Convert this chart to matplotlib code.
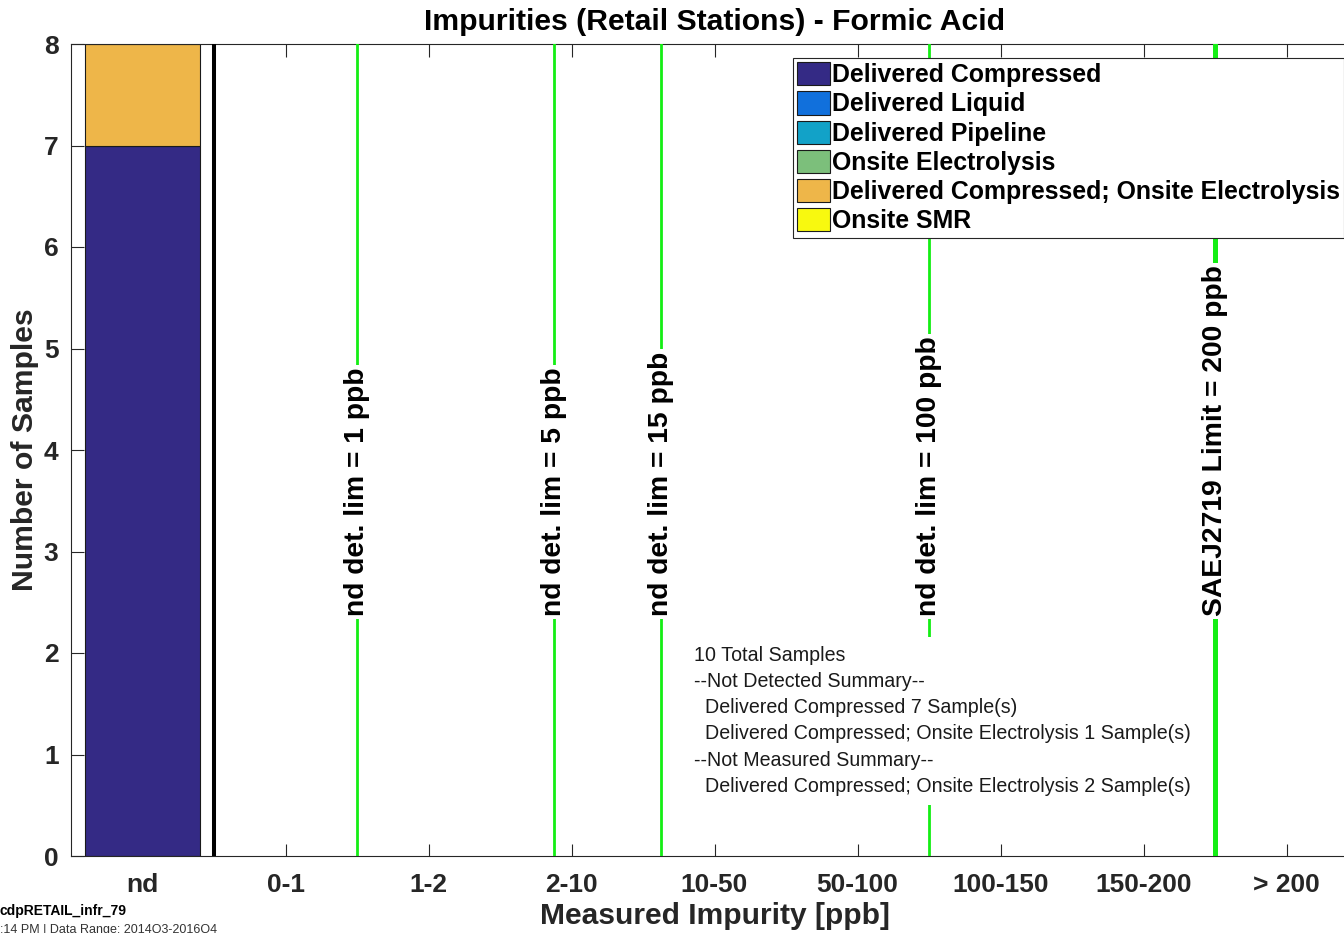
import numpy as np
import matplotlib
matplotlib.use("Agg")
import matplotlib.pyplot as plt

plt.rcParams['font.family'] = ['Liberation Sans', 'DejaVu Sans']

# ---------------- data ----------------
categories = ['nd', '0-1', '1-2', '2-10', '10-50', '50-100', '100-150', '150-200', '> 200']
series_names = ['Delivered Compressed', 'Delivered Liquid', 'Delivered Pipeline',
                'Onsite Electrolysis', 'Delivered Compressed; Onsite Electrolysis', 'Onsite SMR']
series_colors = ['#342a85', '#1170dc', '#12a2c8', '#7cbf7b', '#eeb649', '#f8f90f']
counts = [
    [7, 0, 0, 0, 0, 0, 0, 0, 0],   # Delivered Compressed
    [0, 0, 0, 0, 0, 0, 0, 0, 0],   # Delivered Liquid
    [0, 0, 0, 0, 0, 0, 0, 0, 0],   # Delivered Pipeline
    [0, 0, 0, 0, 0, 0, 0, 0, 0],   # Onsite Electrolysis
    [1, 0, 0, 0, 0, 0, 0, 0, 0],   # Delivered Compressed; Onsite Electrolysis
    [0, 0, 0, 0, 0, 0, 0, 0, 0],   # Onsite SMR
]
det_limit_labels = ['nd det. lim = 1 ppb', 'nd det. lim = 5 ppb', 'nd det. lim = 15 ppb',
                    'nd det. lim = 100 ppb']
det_limit_pos = [2.5, 3.875, 4.625, 6.5]        # category-axis position of each limit
sae_label = 'SAEJ2719 Limit = 200 ppb'
sae_pos = 8.5
nd_separator = 1.5
summary_lines = ['10 Total Samples',
                 '--Not Detected Summary--',
                 '  Delivered Compressed 7 Sample(s)',
                 '  Delivered Compressed; Onsite Electrolysis 1 Sample(s)',
                 '--Not Measured Summary--',
                 '  Delivered Compressed; Onsite Electrolysis 2 Sample(s)']
yticks = [0, 1, 2, 3, 4, 5, 6, 7, 8]

# ---------------- figure ----------------
W, H = 1344, 933
fig = plt.figure(figsize=(W / 100, H / 100), dpi=100)
ax_l, ax_r, ax_t, ax_b = 71, 1358, 44, 856
ax = fig.add_axes([ax_l / W, 1 - ax_b / H, (ax_r - ax_l) / W, (ax_b - ax_t) / H])

x = np.arange(1, len(categories) + 1)
bottom = np.zeros(len(categories))
for name, col, vals in zip(series_names, series_colors, counts):
    v = np.array(vals, dtype=float)
    h = np.where(v > 0, v, np.nan)
    ax.bar(x, h, width=0.8, bottom=bottom, color=col, edgecolor='#1a1a1a',
           linewidth=0.8, label=name, zorder=2)
    bottom = bottom + v

ax.set_xlim(0.5, len(categories) + 0.5)
ax.set_ylim(0, 8)

green = '#14ee14'
lab_fs = 20.3
ax.axvline(nd_separator, color='black', linewidth=2.9, zorder=3)
for pos, lab in zip(det_limit_pos, det_limit_labels):
    ax.axvline(pos, color=green, linewidth=2.0, zorder=3)
    ax.text(pos, 2.36, lab, rotation=90, ha='center', va='bottom', fontsize=lab_fs,
            fontweight='bold', zorder=4,
            bbox=dict(boxstyle='square,pad=0.1', facecolor='white', edgecolor='none'))
ax.axvline(sae_pos, color=green, linewidth=3.6, zorder=3)
ax.text(sae_pos, 2.36, sae_label, rotation=90, ha='center', va='bottom', fontsize=lab_fs,
        fontweight='bold', zorder=4,
        bbox=dict(boxstyle='square,pad=0.1', facecolor='white', edgecolor='none'))

ax.text(4.86, 2.07, '\n'.join(summary_lines), ha='left', va='top', fontsize=14.15,
        linespacing=1.48, color='#1a1a1a', zorder=4,
        bbox=dict(boxstyle='square,pad=0.45', facecolor='white', edgecolor='none'))

ax.set_xticks(x)
ax.set_xticklabels(categories)
ax.set_yticks(yticks)
ax.tick_params(axis='both', direction='in', length=9, width=0.8, colors='#262626',
               top=True, right=True, labelsize=19)
ax.tick_params(axis='x', pad=12)
ax.tick_params(axis='y', pad=9)
for lab in ax.get_xticklabels() + ax.get_yticklabels():
    lab.set_fontweight('bold')
    lab.set_color('#262626')
for sp in ax.spines.values():
    sp.set_color('#262626')
    sp.set_linewidth(0.8)

ax.set_title('Impurities (Retail Stations) - Formic Acid', fontsize=21.7, fontweight='bold',
             pad=10, color='black')
ax.set_xlabel('Measured Impurity [ppb]', fontsize=21.6, fontweight='bold', labelpad=4,
              color='#262626')
ax.set_ylabel('Number of Samples', fontsize=21.7, fontweight='bold',
              color='#262626')
ax.yaxis.set_label_coords(-0.025, 0.5)

leg = ax.legend(loc='upper left', bbox_to_anchor=((793 - ax_l) / (ax_r - ax_l),
                                                  (ax_b - 58) / (ax_b - ax_t)),
                prop={'weight': 'bold', 'size': 17.9}, frameon=True,
                fancybox=False, edgecolor='#262626', framealpha=1,
                handlelength=1.3, handleheight=1.05, handletextpad=0.1,
                labelspacing=0.17, borderpad=0.17, borderaxespad=0)
leg.get_frame().set_linewidth(0.8)
leg.set_zorder(5)

fig.text(0 / W, 1 - 911 / H, 'cdpRETAIL_infr_79', fontsize=10, fontweight='bold',
         ha='left', va='center')
fig.text(0 / W, 1 - 930 / H, ':14 PM | Data Range: 2014Q3-2016Q4', fontsize=9,
         ha='left', va='center', color='#333333')

fig.savefig('out.png', dpi=100)
